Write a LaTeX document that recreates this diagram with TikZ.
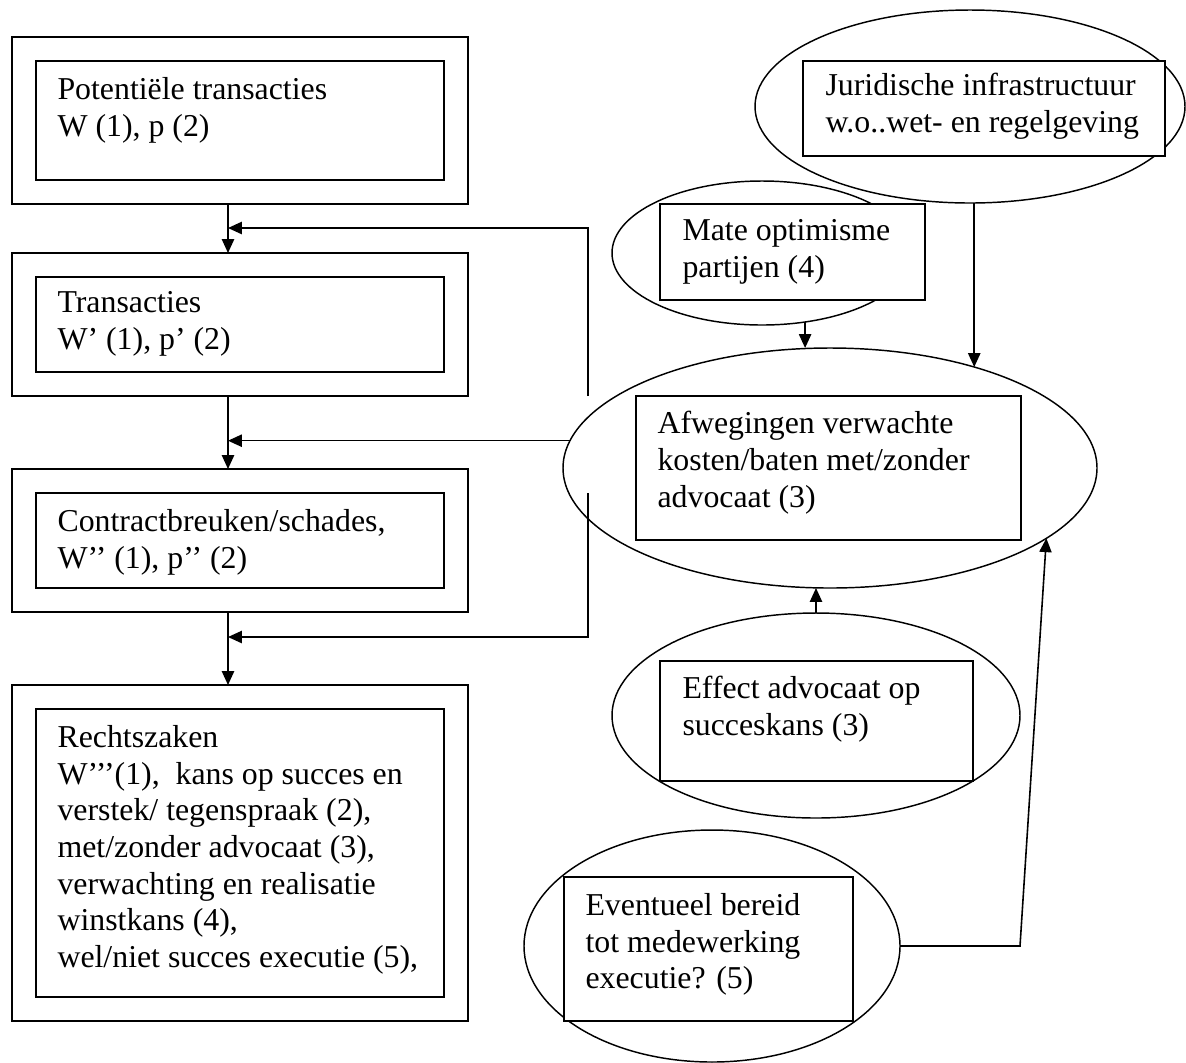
\documentclass[tikz,border=0pt]{standalone}
\usepackage{fontspec}
\setmainfont{Liberation Serif}
\usetikzlibrary{arrows.meta, calc, shapes.geometric}
\newlength{\px}
\setlength{\px}{0.377pt}
\tikzstyle{outerbox} = [draw=black, line width=0.8pt, inner sep=0pt, outer sep=0pt]
\tikzstyle{innerbox} = [draw=black, fill=white, line width=0.8pt, inner sep=0pt, outer sep=0pt]
\tikzstyle{oval} = [ellipse, draw=black, line width=0.55pt, inner sep=0pt, outer sep=0pt]
\tikzstyle{boxtext} = [anchor=north west, align=left, inner sep=0pt, font=\fontsize{12}{13.8}\selectfont, execute at begin node=\strut]
\tikzstyle{arrow} = [line width=0.6pt, -{Triangle[length=5.2pt,width=4.6pt]}]

\begin{document}
\begin{tikzpicture}[x=\px, y=-\px]
\useasboundingbox (0,0) rectangle (1186,1062);

% left column
\node[outerbox, minimum width=456*\px, minimum height=167*\px] (potout) at (240,120.5) {};
\node[innerbox, minimum width=408*\px, minimum height=119*\px] (pot) at (potout.center) {};
\node[boxtext] (pottext) at ($(pot.north west)+(21,16)$) {Potentiële transacties\\W (1), p (2)};

\node[outerbox, minimum width=456*\px, minimum height=143*\px] (transout) at (240,324.5) {};
\node[innerbox, minimum width=408*\px, minimum height=95*\px] (trans) at (transout.center) {};
\node[boxtext] (transtext) at ($(trans.north west)+(21,14)$) {Transacties\\W’ (1), p’ (2)};

\node[outerbox, minimum width=456*\px, minimum height=143*\px] (breukout) at (240,540.5) {};
\node[innerbox, minimum width=408*\px, minimum height=95*\px] (breuk) at (breukout.center) {};
\node[boxtext] (breuktext) at ($(breuk.north west)+(21,16)$) {Contractbreuken/schades,\\W’’ (1), p’’ (2)};

\node[outerbox, minimum width=456*\px, minimum height=336*\px] (zakenout) at (240,853) {};
\node[innerbox, minimum width=408*\px, minimum height=288*\px] (zaken) at (zakenout.center) {};
\node[boxtext] (zakentext) at ($(zaken.north west)+(21,16)$) {Rechtszaken\\W’’’(1),\ \ kans op succes en\\verstek/ tegenspraak (2),\\met/zonder advocaat (3),\\verwachting en realisatie\\winstkans (4),\\wel/niet succes executie (5),};

\coordinate (mid) at (228,0);
\draw[arrow] (potout.south -| mid) -- (transout.north -| mid);
\draw[arrow] (transout.south -| mid) -- (breukout.north -| mid);
\draw[arrow] (breukout.south -| mid) -- (zakenout.north -| mid);

% right column: ovals first, boxes on top
\node[oval, minimum width=430*\px, minimum height=193*\px] (jurov) at (970,106.5) {};
\node[oval, minimum width=300*\px, minimum height=144*\px] (mateov) at (762,253) {};
\node[oval, minimum width=534*\px, minimum height=240*\px] (afwov) at (830,468) {};
\node[oval, minimum width=408*\px, minimum height=205*\px] (effov) at (816,715.5) {};
\node[oval, minimum width=376*\px, minimum height=232*\px] (evov) at (712,946) {};

\node[innerbox, minimum width=362*\px, minimum height=95*\px] (jur) at (984,108.5) {};
\node[boxtext] (jurtext) at ($(jur.north west)+(22,12)$) {Juridische infrastructuur\\w.o..wet- en regelgeving};

\node[innerbox, minimum width=265*\px, minimum height=96*\px] (mate) at (792.5,252) {};
\node[boxtext] (matetext) at ($(mate.north west)+(22,15)$) {Mate optimisme\\partijen (4)};

\node[innerbox, minimum width=385*\px, minimum height=144*\px] (afw) at (828.5,468) {};
\node[boxtext] (afwtext) at ($(afw.north west)+(21,15)$) {Afwegingen verwachte\\kosten/baten met/zonder\\advocaat (3)};

\node[innerbox, minimum width=313*\px, minimum height=120*\px] (eff) at (816.5,721) {};
\node[boxtext] (efftext) at ($(eff.north west)+(22,15)$) {Effect advocaat op\\succeskans (3)};

\node[innerbox, minimum width=289*\px, minimum height=144*\px] (ev) at (708.5,949) {};
\node[boxtext] (evtext) at ($(ev.north west)+(21,16)$) {Eventueel bereid\\tot medewerking\\executie? (5)};

% influences
\draw[arrow] (jurov.south -| afwov.35.7) -- (afwov.35.7);
\draw[arrow] (mateov.-58.7) -- (mateov.-58.7 |- afwov.north);
\draw[arrow] (effov.north) -- (effov.north |- afwov.south);
\coordinate (evknik) at (1020,946);
\draw[arrow] (evov.east) -- (evknik) -- (afwov.-18.9);

% feedback to the left column
\coordinate (fbtop) at (588,396);
\coordinate (fbbot) at (588,493);
\draw[arrow] (fbtop) |- ($(potout.south -| mid)+(0,24)$);
\draw[arrow] (afwov.174.6) -- (afwov.174.6 -| mid);
\draw[arrow] (fbbot) |- ($(breukout.south -| mid)+(0,25)$);
\end{tikzpicture}
\end{document}
